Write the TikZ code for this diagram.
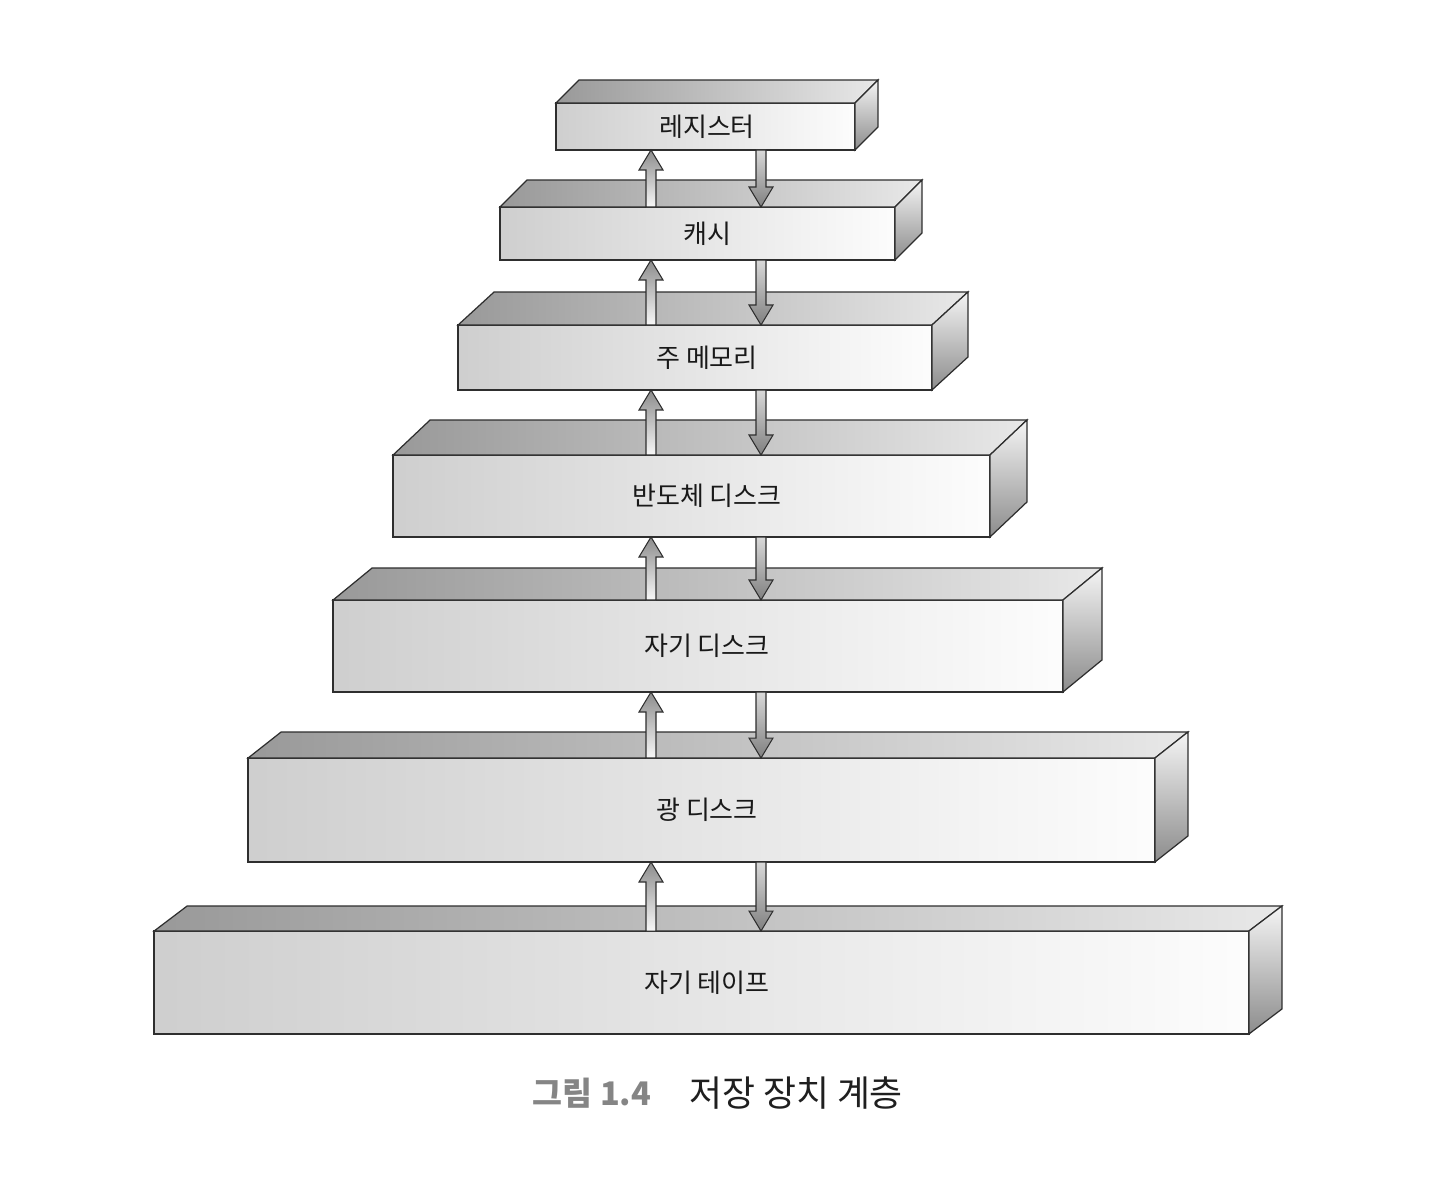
\documentclass[tikz,border=0pt]{standalone}
\usepackage{fontspec}
\setmainfont{Noto Sans CJK KR}
\usepackage{xcolor}
\usepackage{tikz}
\usetikzlibrary{calc}

\definecolor{edge}{gray}{0.18}
\definecolor{capgray}{gray}{0.52}

\tikzset{
	front/.style={draw=edge,line width=0.7pt,left color=black!19,right color=black!1,inner sep=0pt,outer sep=0pt},
	topface/.style={draw=edge,line width=0.7pt,left color=black!40,right color=black!9},
	sideface/.style={draw=edge,line width=0.7pt,top color=black!4,bottom color=black!45},
	lbl/.style={font=\fontsize{14.8}{17}\selectfont,text=black!90},
	uparr/.style={draw=edge,line width=0.6pt,top color=black!45,bottom color=black!3},
	downarr/.style={draw=edge,line width=0.6pt,top color=black!15,bottom color=black!50}
}

% top and right faces of a box, #2 #3 = depth
\newcommand{\boxfaces}[3]{%
	\draw[topface] (#1.north west) -- ++(#2,#3) -- ([shift={(#2,#3)}]#1.north east) -- (#1.north east) -- cycle;
	\draw[sideface] (#1.north east) -- ++(#2,#3) -- ([shift={(#2,#3)}]#1.south east) -- (#1.south east) -- cycle;}

% block arrow from #1 to #2
\newcommand{\flowarrow}[3]{%
	\draw[#3] let \p1=(#1), \p2=(#2), \n1={0.4cm*sign(\y2-\y1)} in
		(\x1-0.1cm,\y1) -- (\x1-0.1cm,\y2-\n1) -- (\x1-0.24cm,\y2-\n1) -- (\x2,\y2)
		-- (\x1+0.24cm,\y2-\n1) -- (\x1+0.1cm,\y2-\n1) -- (\x1+0.1cm,\y1) -- cycle;}

\begin{document}
\begin{tikzpicture}[x=0.02cm,y=-0.02cm]
				\useasboundingbox[fill=white] (0,0) rectangle (1452,1180);
				
				\coordinate (upx) at (651,0);%up arrows
				\coordinate (dnx) at (761,0);%down arrows
				
				\node[front,minimum width=5.98cm,minimum height=0.94cm] (reg) at (705.5,126.5) {};%register
				\node[front,minimum width=7.9cm,minimum height=1.06cm] (cache) at (697.5,233.5) {};
				\node[front,minimum width=9.48cm,minimum height=1.3cm] (mem) at (695,357.5) {};
				\node[front,minimum width=11.94cm,minimum height=1.64cm] (ssd) at (691.5,496) {};
				\node[front,minimum width=14.6cm,minimum height=1.84cm] (hdd) at (698,646) {};
				\node[front,minimum width=18.14cm,minimum height=2.08cm] (odd) at (701.5,810) {};
				\node[front,minimum width=21.9cm,minimum height=2.06cm] (tape) at (701.5,982.5) {};
				
				\boxfaces{reg}{23}{-23}
				\boxfaces{cache}{27}{-27}
				\boxfaces{mem}{36}{-33}
				\boxfaces{ssd}{37}{-35}
				\boxfaces{hdd}{39}{-32}
				\boxfaces{odd}{33}{-26}
				\boxfaces{tape}{33}{-25}
				
				\node[lbl] (reg-t) at (707,126.5) {레지스터};
				\node[lbl] (cache-t) at (707,233.5) {캐시};
				\node[lbl] (mem-t) at (707,357.5) {주 메모리};
				\node[lbl] (ssd-t) at (707,496) {반도체 디스크};
				\node[lbl] (hdd-t) at (707,646) {자기 디스크};
				\node[lbl] (odd-t) at (707,810) {광 디스크};
				\node[lbl] (tape-t) at (707,982.5) {자기 테이프};
				
				\flowarrow{cache.north -| upx}{reg.south -| upx}{uparr}
				\flowarrow{reg.south -| dnx}{cache.north -| dnx}{downarr}
				\flowarrow{mem.north -| upx}{cache.south -| upx}{uparr}
				\flowarrow{cache.south -| dnx}{mem.north -| dnx}{downarr}
				\flowarrow{ssd.north -| upx}{mem.south -| upx}{uparr}
				\flowarrow{mem.south -| dnx}{ssd.north -| dnx}{downarr}
				\flowarrow{hdd.north -| upx}{ssd.south -| upx}{uparr}
				\flowarrow{ssd.south -| dnx}{hdd.north -| dnx}{downarr}
				\flowarrow{odd.north -| upx}{hdd.south -| upx}{uparr}
				\flowarrow{hdd.south -| dnx}{odd.north -| dnx}{downarr}
				\flowarrow{tape.north -| upx}{odd.south -| upx}{uparr}
				\flowarrow{odd.south -| dnx}{tape.north -| dnx}{downarr}
				
				\node[font=\fontsize{18.5}{22}\selectfont\bfseries,text=capgray] (fig) at (592,1093) {그림 1.4};
				\node[font=\fontsize{20.4}{24}\selectfont,text=black!88] (title) at (796,1093) {저장 장치 계층};
			\end{tikzpicture}
\end{document}
